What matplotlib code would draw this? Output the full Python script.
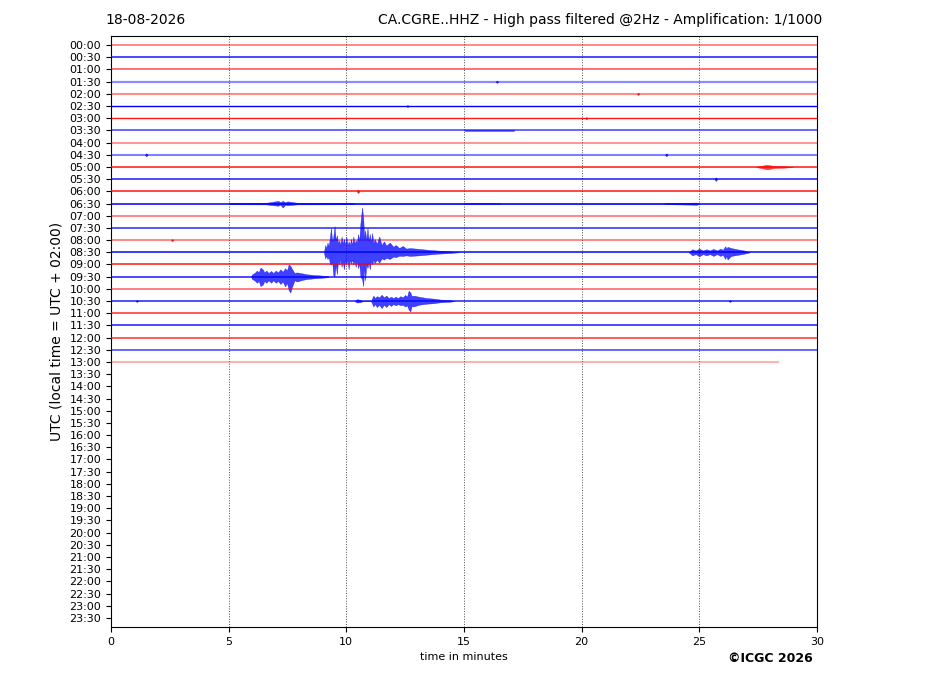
import numpy as np
import matplotlib
matplotlib.use("Agg")
import matplotlib.pyplot as plt

day = "18-08-2026"
station = "CA.CGRE..HHZ - High pass filtered @2Hz - Amplification: 1/1000"
row_labels = ["%02d:%02d" % (h, m) for h in range(24) for m in (0, 30)]

# one trace per half hour, 00:00 .. 13:00 recorded so far
trace_alpha = [0.5, 0.9, 0.6, 0.45, 0.45, 1.0, 0.9, 0.6, 0.4, 0.5,
               0.85, 0.9, 0.85, 0.85, 0.45, 0.85, 0.45, 0.9, 0.9, 0.9,
               0.5, 0.75, 0.7, 0.9, 0.75, 0.6, 0.3]
trace_width = [1.3, 1.1, 1.3, 1.6, 1.5, 1.0, 1.0, 1.4, 1.5, 1.5,
               1.2, 1.1, 1.2, 1.3, 1.5, 1.1, 1.5, 1.2, 1.1, 1.1,
               1.4, 1.3, 1.3, 1.1, 1.2, 1.4, 1.5]
trace_end = [30] * 26 + [28.4]

# envelopes: (minute, amplitude up, amplitude down) in rows
ev_0630 = [(5.0, 0, 0), (5.05, 0.06, 0.06), (6.6, 0.07, 0.07), (6.8, 0.12, 0.12),
           (7.1, 0.22, 0.18), (7.2, 0.12, 0.1), (7.3, 0.22, 0.33), (7.4, 0.1, 0.1),
           (7.5, 0.18, 0.14), (7.9, 0.07, 0.07), (10.3, 0.06, 0.06), (10.35, 0, 0),
           (15.0, 0, 0), (15.05, 0.05, 0.05), (16.5, 0.05, 0.05), (16.55, 0, 0),
           (23.5, 0, 0), (23.55, 0.05, 0.05), (24.9, 0.08, 0.1), (25.0, 0, 0)]
ev_0830 = [(9.05, 0, 0), (9.1, 0.6, 0.5), (9.15, 0.35, 0.3), (9.2, 0.8, 0.55),
           (9.25, 0.5, 0.4), (9.3, 1.2, 0.9), (9.35, 2.0, 1.0), (9.4, 0.9, 0.8),
           (9.45, 1.3, 1.9), (9.5, 2.15, 1.95), (9.55, 1.0, 1.0), (9.6, 1.4, 1.8),
           (9.65, 0.7, 0.7), (9.7, 1.0, 1.0), (9.75, 0.6, 0.6), (9.8, 1.3, 1.2),
           (9.85, 0.7, 0.7), (9.9, 1.1, 1.4), (9.95, 0.6, 0.7), (10.0, 1.3, 1.0),
           (10.05, 0.6, 0.6), (10.1, 0.9, 1.4), (10.15, 0.6, 0.6), (10.2, 1.1, 0.9),
           (10.25, 0.6, 0.6), (10.3, 1.3, 1.0), (10.35, 0.7, 0.7), (10.4, 1.0, 1.2),
           (10.45, 0.8, 0.7), (10.5, 1.5, 1.3), (10.55, 0.9, 0.9), (10.6, 2.4, 2.0),
           (10.67, 3.67, 2.2), (10.72, 2.8, 2.77), (10.76, 1.2, 1.2), (10.8, 1.8, 2.3),
           (10.85, 1.0, 1.0), (10.9, 2.0, 1.3), (10.95, 0.9, 0.8), (11.0, 1.5, 1.4),
           (11.05, 0.8, 0.7), (11.1, 1.6, 1.0), (11.15, 0.7, 0.6), (11.2, 1.1, 0.9),
           (11.3, 0.7, 0.6), (11.4, 1.3, 0.85), (11.5, 0.6, 0.5), (11.6, 0.9, 0.6),
           (11.7, 0.55, 0.45), (11.85, 0.8, 0.55), (12.0, 0.45, 0.35), (12.1, 0.6, 0.4),
           (12.25, 0.35, 0.28), (12.4, 0.52, 0.3), (12.55, 0.3, 0.25), (12.7, 0.35, 0.3),
           (13.1, 0.28, 0.25), (13.5, 0.2, 0.18), (13.85, 0.15, 0.12), (14.4, 0.08, 0.06),
           (14.8, 0, 0)]
ev_0830_late = [(24.55, 0, 0), (24.7, 0.25, 0.25), (24.85, 0.15, 0.15), (25.0, 0.3, 0.33),
                (25.15, 0.15, 0.15), (25.3, 0.25, 0.25), (25.45, 0.15, 0.15), (25.6, 0.28, 0.3),
                (25.75, 0.15, 0.15), (25.9, 0.3, 0.3), (26.0, 0.2, 0.2), (26.1, 0.5, 0.55),
                (26.15, 0.3, 0.3), (26.2, 0.45, 0.6), (26.35, 0.35, 0.3), (26.6, 0.25, 0.22),
                (26.9, 0.15, 0.12), (27.15, 0, 0)]
ev_0930 = [(5.95, 0, 0), (6.0, 0.2, 0.2), (6.1, 0.3, 0.3), (6.2, 0.5, 0.5),
           (6.28, 0.35, 0.35), (6.35, 0.74, 0.77), (6.45, 0.6, 0.65), (6.52, 0.35, 0.35),
           (6.6, 0.5, 0.5), (6.7, 0.3, 0.3), (6.8, 0.47, 0.5), (6.9, 0.3, 0.3),
           (7.0, 0.5, 0.5), (7.1, 0.35, 0.35), (7.2, 0.6, 0.6), (7.3, 0.4, 0.4),
           (7.4, 0.7, 0.8), (7.48, 0.5, 0.5), (7.55, 1.0, 1.1), (7.62, 0.9, 1.3),
           (7.7, 0.6, 0.8), (7.8, 0.3, 0.3), (7.9, 0.35, 0.4), (8.1, 0.28, 0.28),
           (8.3, 0.2, 0.2), (8.6, 0.14, 0.14), (8.9, 0.1, 0.1), (9.2, 0.05, 0.05),
           (9.25, 0, 0)]
ev_1030 = [(10.35, 0, 0), (10.45, 0.15, 0.12), (10.6, 0.1, 0.1), (10.7, 0, 0),
           (11.05, 0, 0), (11.15, 0.45, 0.45), (11.22, 0.25, 0.25), (11.3, 0.4, 0.5),
           (11.4, 0.3, 0.3), (11.5, 0.52, 0.58), (11.6, 0.3, 0.3), (11.7, 0.45, 0.5),
           (11.8, 0.25, 0.25), (11.9, 0.35, 0.4), (12.0, 0.25, 0.25), (12.1, 0.35, 0.35),
           (12.2, 0.25, 0.25), (12.3, 0.4, 0.35), (12.4, 0.3, 0.3), (12.5, 0.5, 0.45),
           (12.58, 0.35, 0.35), (12.65, 0.85, 0.7), (12.72, 0.7, 0.85), (12.78, 0.4, 0.4),
           (12.85, 0.45, 0.45), (13.1, 0.35, 0.3), (13.4, 0.25, 0.22), (13.7, 0.2, 0.18),
           (14.0, 0.12, 0.1), (14.4, 0.08, 0.06), (14.6, 0, 0)]
ev_0500 = [(27.4, 0, 0), (27.6, 0.08, 0.08), (27.85, 0.18, 0.18), (27.95, 0.16, 0.18),
           (28.2, 0.08, 0.08), (28.6, 0.06, 0.06), (29.0, 0, 0)]
ev_0330 = [(15.0, 0, 0), (15.05, 0.04, 0.04), (17.1, 0.04, 0.04), (17.15, 0, 0)]

events = [(13, ev_0630), (17, ev_0830), (17, ev_0830_late), (19, ev_0930),
          (21, ev_1030), (10, ev_0500), (7, ev_0330)]

# isolated small spikes: (row, minute, amplitude)
blips = [(3, 16.4, 0.1), (4, 22.4, 0.1), (5, 12.6, 0.08), (6, 20.2, 0.1),
         (9, 1.5, 0.13), (9, 23.6, 0.12), (11, 25.7, 0.15), (12, 10.5, 0.15),
         (16, 2.6, 0.1), (21, 1.1, 0.08), (21, 26.3, 0.08)]

fig = plt.figure(figsize=(9.27, 6.96), dpi=100)
ax = fig.add_axes([0.1197, 0.0991, 0.7616, 0.8492])

for i in range(len(trace_alpha)):
    c = "red" if i % 2 == 0 else "blue"
    ax.plot([0, trace_end[i]], [i, i], color=c, lw=trace_width[i],
            alpha=trace_alpha[i], solid_capstyle="butt", zorder=2 + i)

for row, ev in events:
    arr = np.array(ev, dtype=float)
    c = "red" if row % 2 == 0 else "blue"
    ax.fill_between(arr[:, 0], row - arr[:, 1], row + arr[:, 2],
                    color=c, alpha=0.75, lw=0.3, zorder=2 + row)

for row, m, a in blips:
    c = "red" if row % 2 == 0 else "blue"
    ax.fill_between([m - 0.06, m, m + 0.06], [row, row - a, row],
                    [row, row + a, row], color=c, alpha=0.8, lw=0.3, zorder=2 + row)

for x in range(5, 30, 5):
    ax.axvline(x, color="0.3", ls=":", lw=0.7, zorder=1)

ax.set_xlim(0, 30)
ax.set_ylim(47.75, -0.75)
ax.set_yticks(range(len(row_labels)))
ax.set_yticklabels(row_labels)
ax.set_xticks(range(0, 31, 5))
ax.tick_params(labelsize=8)
ax.set_xlabel("time in minutes", fontsize=8)
ax.set_ylabel("UTC (local time = UTC + 02:00)", fontsize=10)

fig.text(0.1133, 0.971, day, fontsize=10, va="center", ha="left")
fig.text(0.8867, 0.971, station, fontsize=10, va="center", ha="right")
fig.text(0.831, 0.054, "\u00a9ICGC 2026", fontsize=9, fontweight="bold",
         ha="center", va="center")

fig.savefig("out.png", dpi=100)
